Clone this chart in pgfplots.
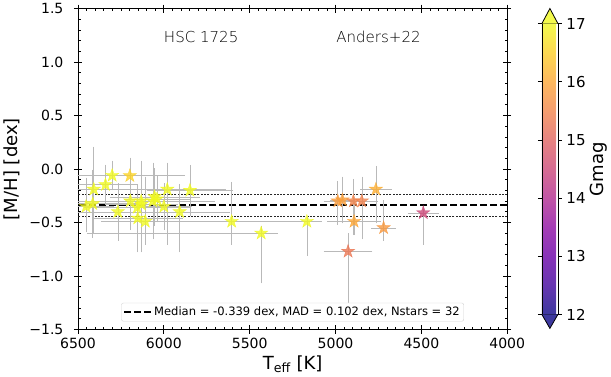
\documentclass[border=0pt]{standalone}
\usepackage{pgfplots}
\pgfplotsset{compat=1.18}
\usepackage{pgfplotstable}
\usepackage{fontspec}
\setmainfont{DejaVu Sans}
\newfontfamily\lightfont{DejaVu Sans ExtraLight}

\definecolor{ebar}{RGB}{185,185,185}
\definecolor{cbtop}{RGB}{243,250,77}
\definecolor{cbbot}{RGB}{61,57,159}

% filled five-pointed star
\pgfdeclareplotmark{fstar}{%
  \pgfpathmoveto{\pgfqpointpolar{90}{\pgfplotmarksize}}%
  \pgfpathlineto{\pgfqpointpolar{126}{0.382\pgfplotmarksize}}%
  \pgfpathlineto{\pgfqpointpolar{162}{\pgfplotmarksize}}%
  \pgfpathlineto{\pgfqpointpolar{198}{0.382\pgfplotmarksize}}%
  \pgfpathlineto{\pgfqpointpolar{234}{\pgfplotmarksize}}%
  \pgfpathlineto{\pgfqpointpolar{270}{0.382\pgfplotmarksize}}%
  \pgfpathlineto{\pgfqpointpolar{306}{\pgfplotmarksize}}%
  \pgfpathlineto{\pgfqpointpolar{342}{0.382\pgfplotmarksize}}%
  \pgfpathlineto{\pgfqpointpolar{18}{\pgfplotmarksize}}%
  \pgfpathlineto{\pgfqpointpolar{54}{0.382\pgfplotmarksize}}%
  \pgfpathclose
  \pgfusepathqfillstroke}

\pgfplotsset{
  colormap={plasma}{rgb255=(13,8,135) rgb255=(65,4,157) rgb255=(106,0,168)
    rgb255=(143,13,164) rgb255=(177,42,144) rgb255=(204,71,120) rgb255=(225,100,98)
    rgb255=(242,132,75) rgb255=(252,166,54) rgb255=(252,206,37) rgb255=(240,249,33)},
  colormap={plasmaw}{rgb255=(61,57,159) rgb255=(103,54,177) rgb255=(136,51,185)
    rgb255=(165,61,182) rgb255=(193,85,166) rgb255=(214,108,147) rgb255=(231,131,129)
    rgb255=(245,157,111) rgb255=(253,184,94) rgb255=(253,216,81) rgb255=(243,250,77)},
}

% L = error towards higher Teff (left), R = towards lower Teff (right)
\pgfplotstableread{
T     M      L     R    dn    up    G
6453  -0.350 150   150  0.22  0.25  17
6414  -0.325 250   250  0.30  0.30  17
6408  -0.190 120   120  0.39  0.38  17
6340  -0.147 170   170  0.17  0.17  17
6301  -0.060 200   250  0.12  0.12  17
6198  -0.063 310   310  0.15  0.15  16.55
6268  -0.400 300   640  0.25  0.25  17
6195  -0.300 200   400  0.25  0.25  17
6152  -0.460 250   250  0.30  0.30  17
6132  -0.300 355   355  0.46  0.36  17
6155  -0.360 300   300  0.20  0.20  17
6108  -0.490 230   230  0.20  0.40  17
6064  -0.300 300   350  0.34  0.34  17
6054  -0.260 250   250  0.25  0.25  17
6000  -0.350 150   150  0.20  0.20  17
5980  -0.190 330   330  0.50  0.23  17
5908  -0.400 283   283  0.36  0.24  17
5848  -0.200 240   240  0.22  0.22  17
5605  -0.490 750   273  0.20  0.35  17
5433  -0.600 1000  85   0.45  0.05  17
5167  -0.490 165   75   0.30  0.03  17
6130  -0.330 200   200  0.25  0.25  17
6040  -0.280 180   180  0.20  0.20  17
4987  -0.300 70    70   0.20  0.17  15.85
4960  -0.290 60    60   0.20  0.20  15.9
4896  -0.300 50    50   0.30  0.19  15.5
4847  -0.300 80    80   0.34  0.21  15.45
4765  -0.190 80    80   0.30  0.20  16.1
4892  -0.490 145   145  0.11  0.19  16.0
4720  -0.550 60    60   0.10  0.24  15.8
4927  -0.770 130   130  0.50  0.15  15.3
4489  -0.410 80    80   0.28  0.05  14.5
}\stars

\begin{document}
\begin{tikzpicture}
\begin{axis}[
  width=428pt, height=320pt, scale only axis,
  xmin=4000, xmax=6500, x dir=reverse,
  ymin=-1.5, ymax=1.5,
  xtick={4000,4500,5000,5500,6000,6500},
  xticklabels={4000,4500,5000,5500,6000,6500},
  ytick={-1.5,-1,-0.5,0,0.5,1,1.5},
  yticklabels={−1.5,−1.0,−0.5,0.0,0.5,1.0,1.5},
  minor x tick num=9, minor y tick num=4,
  tick align=inside, major tick length=4pt, minor tick length=2.5pt,
  extra x ticks={4000,4500,5000,5500,6000,6500}, extra x tick labels={},
  extra y ticks={-1.5,-1,-0.5,0,0.5,1,1.5}, extra y tick labels={},
  extra tick style={tick align=outside, major tick length=4pt},
  tick style={black, line width=0.8pt},
  axis line style={line width=0.9pt},
  ticklabel style={font=\fontsize{14}{16}\selectfont},
  xticklabel style={yshift=-5pt},
  yticklabel style={xshift=-11pt},
  label style={font=\fontsize{18}{20}\selectfont},
  xlabel={T\textsubscript{eff} [K]},
  ylabel={[M/H] [dex]},
  xlabel style={yshift=4pt},
  ylabel style={yshift=-1pt},
  colormap name=plasma,
  point meta min=12, point meta max=17,
  colorbar,
  colorbar style={
    colormap name=plasmaw,
    at={(parent axis.east)}, anchor=west, xshift=26pt,
    width=16pt, height=290pt,
    ytick={12,13,14,15,16,17},
    yticklabels={12,13,14,15,16,17},
    minor y tick num=0, extra y ticks={},
    tick align=outside, major tick length=4pt,
    yticklabel style={xshift=1pt, font=\fontsize{15}{17}\selectfont},
    ylabel={Gmag},
    ylabel style={font=\fontsize{18}{20}\selectfont, yshift=2pt},
    after end axis/.code={
      \filldraw[fill=cbtop, draw=black, line width=0.8pt]
        (rel axis cs:0,1) -- (rel axis cs:0.5,1.052) -- (rel axis cs:1,1);
      \filldraw[fill=cbbot, draw=black, line width=0.8pt]
        (rel axis cs:0,0) -- (rel axis cs:0.5,-0.048) -- (rel axis cs:1,0);
    },
  },
  legend style={at={(0.5,0.025)}, anchor=south, draw=gray!35, rounded corners=2pt,
    font=\fontsize{11.5}{13}\selectfont, inner sep=2pt},
  legend image code/.code={\draw[#1] (0pt,0pt) -- (27pt,0pt);},
]
% MAD band
\addplot[forget plot, gray!30!black, line width=0.8pt, dash pattern=on 2pt off 1.3pt]
  coordinates {(4000,-0.237) (6500,-0.237)};
\addplot[forget plot, gray!30!black, line width=0.8pt, dash pattern=on 2pt off 1.3pt]
  coordinates {(4000,-0.441) (6500,-0.441)};
% median
\addplot[black, line width=1.6pt, dash pattern=on 7pt off 3pt]
  coordinates {(4000,-0.339) (6500,-0.339)};
\addlegendentry{Median = -0.339 dex, MAD = 0.102 dex, Nstars = 32}
% error bars
\addplot[forget plot, draw=none, mark=none,
  error bars/.cd, x dir=both, y dir=both, x explicit, y explicit,
  error bar style={draw=ebar, line width=0.6pt},
  error mark options={draw=ebar, mark size=2pt, line width=0.6pt}]
  table[x=T, y=M, x error plus=L, x error minus=R, y error plus=up, y error minus=dn] {\stars};
% stars
\addplot[forget plot, scatter, only marks, mark=fstar, mark size=7pt,
  point meta=explicit,
  scatter/use mapped color={draw=mapped color, fill=mapped color, fill opacity=0.8, draw opacity=0.8}]
  table[x=T, y=M, meta=G] {\stars};
\node[font=\lightfont\fontsize{15}{17}\selectfont] at (axis description cs:0.287,0.912) {HSC 1725};
\node[font=\lightfont\fontsize{15}{17}\selectfont] at (axis description cs:0.70,0.912) {Anders+22};
\end{axis}
\end{tikzpicture}
\end{document}
